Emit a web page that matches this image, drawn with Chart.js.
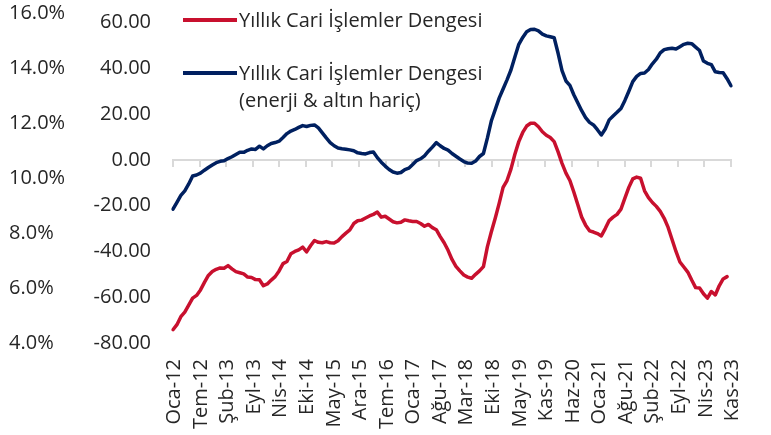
<!DOCTYPE html>
<html lang="tr">
<head>
<meta charset="utf-8">
<title>Yıllık Cari İşlemler Dengesi</title>
<script src="https://cdn.jsdelivr.net/npm/chart.js@4.4.1/dist/chart.umd.min.js"></script>
<style>
  html, body { margin: 0; padding: 0; background: #fff; }
  #wrap { position: relative; width: 771px; height: 435px; font-family: 'Open Sans', sans-serif; color: #262626; }
  #legend { position: absolute; left: 183px; top: 6px; font-size: 20px; line-height: 27px; }
  #legend .item { display: flex; align-items: flex-start; margin-bottom: 26px; }
  #legend .swatch { width: 54px; height: 3.5px; margin-top: 12px; margin-right: 2px; flex: none; }
</style>
</head>
<body>
<div id="wrap">
  <canvas id="caChart"></canvas>
  <div id="legend"></div>
</div>
<script>
const monthNames = ['Oca', 'Şub', 'Mar', 'Nis', 'May', 'Haz', 'Tem', 'Ağu', 'Eyl', 'Eki', 'Kas', 'Ara'];

// Oca-12 ... Kas-23, monthly
const categories = [];
for (let yr = 12; yr <= 23; yr++) {
  monthNames.forEach((m, i) => {
    if (yr < 23 || i < 11) categories.push(`${m}-${yr}`);
  });
}

const tickLabels = ['Oca-12', 'Tem-12', 'Şub-13', 'Eyl-13', 'Nis-14', 'Eki-14', 'May-15', 'Ara-15',
  'Tem-16', 'Oca-17', 'Ağu-17', 'Mar-18', 'Eki-18', 'May-19', 'Kas-19', 'Haz-20', 'Oca-21',
  'Ağu-21', 'Şub-22', 'Eyl-22', 'Nis-23', 'Kas-23'];

const valueTicks = [-80, -60, -40, -20, 0, 20, 40, 60];
const pctTicks = [4, 6, 8, 10, 12, 14, 16];

const seriesNames = [
  ['Yıllık Cari İşlemler Dengesi'],
  ['Yıllık Cari İşlemler Dengesi', '(enerji & altın hariç)']
];

// billion USD, 12-month rolling
const currentAccount = [
  -74.2, -72.0, -68.5, -66.5, -63.5, -60.4, -59.2, -56.8, -53.5, -50.5, -48.8, -47.8,
  -47.2, -47.3, -46.2, -47.6, -48.8, -49.3, -49.8, -51.2, -51.4, -52.3, -52.4, -55.0,
  -54.2, -52.5, -51.0, -48.5, -45.3, -44.4, -41.0, -40.0, -39.3, -38.1, -40.2, -37.5,
  -35.2, -36.0, -36.2, -35.7, -36.2, -36.3, -35.3, -33.5, -32.0, -30.6, -27.8, -26.6,
  -26.3, -25.4, -24.5, -23.8, -22.8, -25.0, -24.6, -25.8, -27.0, -27.5, -27.2, -26.2,
  -26.6, -26.9, -26.9, -27.8, -29.0, -28.2, -29.6, -30.5, -33.5, -36.2, -39.5, -43.5,
  -46.5, -48.5, -50.3, -51.2, -51.7, -50.0, -48.5, -46.6, -38.0, -31.5, -25.5, -19.0,
  -12.0, -9.0, -4.0, 2.5, 8.0, 12.0, 14.8, 16.0, 16.0, 14.5, 12.3, 10.8,
  9.8, 8.0, 3.5, -1.5, -5.8, -9.0, -14.0, -19.5, -25.0, -28.5, -31.0, -31.5,
  -32.2, -33.2, -30.0, -26.5, -25.0, -23.8, -21.5, -16.7, -12.0, -8.3, -7.5, -8.0,
  -13.5, -16.5, -18.6, -20.3, -22.5, -25.5, -29.5, -34.8, -40.0, -44.6, -46.8, -49.0,
  -52.5, -55.8, -56.0, -58.5, -60.4, -57.5, -59.0, -55.0, -52.0, -51.0, null
];

const currentAccountCore = [
  -21.5, -18.5, -15.5, -13.5, -10.5, -7.0, -6.6, -5.8, -4.5, -3.3, -2.2, -1.2,
  -0.6, -0.4, 0.6, 1.4, 2.4, 3.4, 3.3, 4.2, 4.8, 4.6, 6.0, 4.8,
  6.2, 7.2, 7.6, 8.2, 9.8, 11.5, 12.6, 13.3, 14.2, 15.0, 14.6, 15.1,
  15.3, 14.0, 11.8, 9.6, 7.6, 6.2, 5.2, 4.9, 4.7, 4.4, 4.0, 3.1,
  2.8, 2.6, 3.2, 3.5, 1.0, -1.0, -2.7, -4.2, -5.3, -5.8, -5.5, -4.2,
  -3.6, -2.0, -0.3, 0.5, 1.8, 3.8, 5.6, 7.6, 6.2, 5.0, 4.3, 2.8,
  1.6, 0.4, -0.7, -1.4, -1.5, -0.5, 1.5, 2.8, 9.5, 17.0, 22.0, 27.0,
  31.0, 35.0, 39.3, 45.0, 50.5, 53.5, 56.0, 57.0, 57.1, 56.4, 55.0, 54.2,
  53.8, 53.4, 46.6, 39.0, 34.5, 32.6, 28.5, 25.0, 21.5, 18.5, 16.4, 15.3,
  13.2, 10.9, 13.5, 17.5, 19.2, 20.8, 22.5, 26.0, 30.0, 34.2, 36.5, 37.8,
  38.0, 39.5, 42.0, 44.0, 46.8, 48.2, 48.6, 48.8, 48.5, 49.5, 50.5, 51.0,
  50.8, 49.3, 47.8, 43.2, 42.2, 41.6, 38.5, 38.2, 38.1, 35.5, 32.4
];

const RED = '#C8102E';
const NAVY = '#002060';
const TEXT = '#262626';
const AXIS_GREY = '#d9d9d9';

Chart.defaults.font.family = "'Open Sans', sans-serif";
Chart.defaults.font.size = 20;
Chart.defaults.color = TEXT;

// evenly spread ticks along the date axis (as Excel does)
function spreadTicks(scale) {
  const last = categories.length - 1;
  scale.ticks = tickLabels.map((_, k) => ({ value: k * last / (tickLabels.length - 1) }));
}

// fixed axis width; keep tick padding out of the top/bottom margins
function fixWidth(width) {
  return scale => {
    scale.width = width;
    scale.paddingTop = 12;
    scale.paddingBottom = 12;
  };
}

const ctx = document.getElementById('caChart').getContext('2d');
const chart = new Chart(ctx, {
  type: 'line',
  data: {
    labels: categories,
    datasets: [
      {
        label: seriesNames[0].join(' '),
        data: currentAccount,
        borderColor: RED,
        xAxisID: 'x',
        yAxisID: 'y'
      },
      {
        label: seriesNames[1].join(' '),
        data: currentAccountCore,
        borderColor: NAVY,
        xAxisID: 'x',
        yAxisID: 'y'
      }
    ]
  },
  options: {
    responsive: true,
    maintainAspectRatio: false,
    animation: false,
    layout: { padding: { left: 9, top: 13, right: 25, bottom: 0 } },
    plugins: { legend: { display: false }, tooltip: { enabled: false } },
    elements: {
      point: { radius: 0 },
      line: { borderWidth: 3.5, tension: 0, fill: false, borderJoinStyle: 'round', borderCapStyle: 'round' }
    },
    scales: {
      x: {
        type: 'category',
        position: 'bottom',
        offset: false,
        grid: { display: false, drawTicks: false },
        border: { display: false },
        afterBuildTicks: spreadTicks,
        afterFit: s => { s.height = 92; },
        ticks: {
          autoSkip: false,
          minRotation: 90,
          maxRotation: 90,
          padding: 16,
          labelOffset: 1.5,
          callback: (v, i) => tickLabels[i]
        }
      },
      xZero: {
        type: 'linear',
        axis: 'x',
        position: { y: 0 },
        min: 0,
        max: categories.length - 1,
        afterBuildTicks: spreadTicks,
        ticks: { display: false },
        grid: { drawOnChartArea: false, drawTicks: true, tickLength: 6, color: AXIS_GREY, lineWidth: 2 },
        border: { display: true, color: AXIS_GREY, width: 2 }
      },
      y: {
        type: 'linear',
        position: 'left',
        weight: 1,
        min: -80,
        max: 64.2,
        afterBuildTicks: s => { s.ticks = valueTicks.map(v => ({ value: v })); },
        afterFit: fixWidth(86),
        grid: { display: false, drawTicks: false },
        border: { display: false },
        ticks: { padding: 22, callback: v => v.toFixed(2) }
      },
      yPct: {
        type: 'linear',
        axis: 'y',
        position: 'left',
        weight: 2,
        min: 4,
        max: 16,
        afterBuildTicks: s => { s.ticks = pctTicks.map(v => ({ value: v })); },
        afterFit: fixWidth(78),
        grid: { display: false, drawTicks: false },
        border: { display: false },
        ticks: { crossAlign: 'far', padding: 0, callback: v => v.toFixed(1) + '%' }
      }
    }
  }
});

// Legend (multi-line labels), built from the datasets
function renderLegend() {
  const legend = document.getElementById('legend');
  legend.innerHTML = '';
  chart.data.datasets.forEach((ds, i) => {
    const item = document.createElement('div');
    item.className = 'item';
    const swatch = document.createElement('span');
    swatch.className = 'swatch';
    swatch.style.background = ds.borderColor;
    const text = document.createElement('span');
    text.innerHTML = seriesNames[i].join('<br>');
    item.appendChild(swatch);
    item.appendChild(text);
    legend.appendChild(item);
  });
}

renderLegend();
</script>
</body>
</html>
